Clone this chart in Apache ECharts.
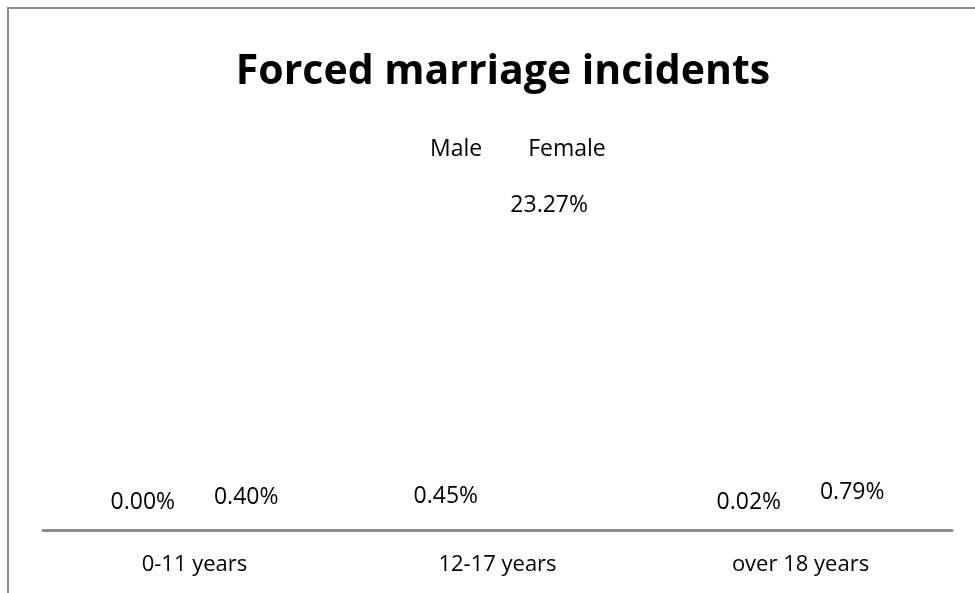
<!DOCTYPE html>
<html><head><meta charset="utf-8">
<script src="https://cdn.jsdelivr.net/npm/echarts@6/dist/echarts.min.js"></script>
<style>html,body{margin:0;padding:0;background:#fff}#c{width:975px;height:593px}</style>
</head><body><div id="c"></div>
<script>
const titleText = 'Forced marriage incidents';
const categories = ['0-11 years', '12-17 years', 'over 18 years'];
const seriesNames = ['Male', 'Female'];
const maleValues = [0.00, 0.45, 0.02];
const femaleValues = [0.40, 23.27, 0.79];

const FONT = '"Open Sans", "Noto Sans", sans-serif';
const chart = echarts.init(document.getElementById('c'), null, {renderer: 'canvas'});
const labelCfg = {
  show: true, position: 'top', distance: 16, color: '#000',
  fontFamily: FONT, fontSize: 23,
  formatter: p => p.value.toFixed(2) + '%'
};
chart.setOption({
  backgroundColor: '#fff',
  animation: false,
  title: {
    text: titleText, left: 498, textAlign: 'center', top: 47,
    textStyle: {fontFamily: FONT, fontWeight: 'bold', fontSize: 41, color: '#000'}
  },
  legend: {
    data: seriesNames.map(n => ({name: n, icon: 'none'})),
    top: 133, left: 420, itemWidth: 0, itemGap: 41,
    textStyle: {fontFamily: FONT, fontSize: 23, color: '#000'}
  },
  grid: {left: 43, right: 23, top: 233, bottom: 63},
  xAxis: {
    type: 'category', data: categories,
    axisLine: {lineStyle: {color: '#8c8c8c', width: 3}},
    axisTick: {show: false},
    axisLabel: {fontFamily: FONT, fontSize: 22, color: '#000', margin: 24}
  },
  yAxis: {
    type: 'value', min: 0, max: 'dataMax', show: false, splitLine: {show: false}
  },
  graphic: [{
    type: 'polyline', silent: true,
    shape: {points: [[8, 593], [8, 8], [975, 8]]},
    style: {stroke: '#8c8c8c', lineWidth: 2, fill: null}
  }],
  series: [
    {name: seriesNames[0], type: 'bar', data: maleValues, barWidth: 94, barGap: '10%',
     itemStyle: {color: 'rgba(0,0,0,0)'}, label: labelCfg},
    {name: seriesNames[1], type: 'bar', data: femaleValues, barWidth: 94,
     itemStyle: {color: 'rgba(0,0,0,0)'}, label: labelCfg}
  ]
});
</script></body></html>
